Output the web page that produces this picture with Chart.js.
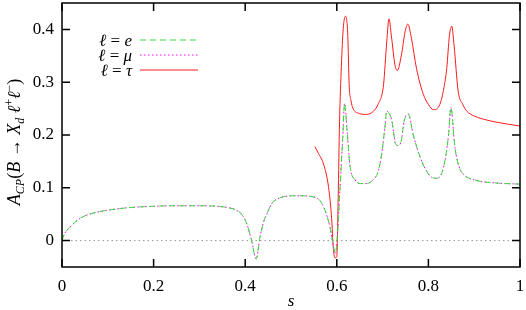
<!DOCTYPE html>
<html>
<head>
<meta charset="utf-8">
<script src="https://cdn.jsdelivr.net/npm/chart.js@4/dist/chart.umd.min.js"></script>
<style>
  html, body { margin: 0; padding: 0; background: #fff; }
</style>
</head>
<body>
<canvas id="graphique" width="526" height="310"></canvas>
<script>
// valeurs
const sLight = [0, 0.005, 0.017, 0.039, 0.06, 0.083, 0.12, 0.155, 0.2, 0.25, 0.3, 0.34, 0.365, 0.38, 0.392,
  0.403, 0.414, 0.424, 0.432, 0.44, 0.447, 0.458, 0.476, 0.512, 0.548, 0.563, 0.574, 0.585, 0.592, 0.597,
  0.602, 0.607, 0.613, 0.617, 0.622, 0.629, 0.64, 0.651, 0.665, 0.68, 0.69, 0.698, 0.705, 0.709, 0.715,
  0.72, 0.729, 0.735, 0.741, 0.747, 0.756, 0.767, 0.782, 0.795, 0.807, 0.82, 0.833, 0.844, 0.849, 0.858,
  0.867, 0.876, 0.9, 0.95, 1.0];
const acpLight = [0, 0.012, 0.025, 0.042, 0.05, 0.055, 0.06, 0.063, 0.065, 0.066, 0.066, 0.065, 0.062, 0.058, 0.05,
  0.033, 0.0, -0.035, 0.005, 0.035, 0.05, 0.07, 0.081, 0.085, 0.083, 0.076, 0.058, 0.026, -0.008, -0.025,
  0.02, 0.1, 0.195, 0.26, 0.214, 0.14, 0.115, 0.108, 0.108, 0.116, 0.13, 0.164, 0.214, 0.245, 0.24,
  0.228, 0.182, 0.18, 0.19, 0.226, 0.24, 0.2, 0.158, 0.133, 0.12, 0.118, 0.139, 0.2, 0.252, 0.176,
  0.14, 0.126, 0.115, 0.109, 0.107];

const sTau = [0.552, 0.56, 0.571, 0.582, 0.589, 0.592, 0.596, 0.6, 0.603, 0.606, 0.61, 0.614, 0.619, 0.624,
  0.627, 0.631, 0.635, 0.645, 0.665, 0.68, 0.69, 0.702, 0.709, 0.714, 0.719, 0.727, 0.732, 0.741, 0.749,
  0.755, 0.763, 0.774, 0.789, 0.8, 0.811, 0.825, 0.834, 0.84, 0.846, 0.851, 0.856, 0.865, 0.875, 0.884,
  0.9, 0.92, 0.95, 1.0];
const acpTau = [0.178, 0.165, 0.145, 0.101, 0.039, -0.01, -0.033, -0.03, 0.08, 0.226, 0.33, 0.401, 0.425, 0.389,
  0.295, 0.265, 0.251, 0.242, 0.239, 0.245, 0.258, 0.295, 0.376, 0.42, 0.389, 0.333, 0.322, 0.351, 0.395,
  0.41, 0.383, 0.326, 0.277, 0.258, 0.248, 0.258, 0.29, 0.326, 0.389, 0.406, 0.37, 0.283, 0.258, 0.245,
  0.236, 0.23, 0.224, 0.217];

const xTicks = [0, 0.2, 0.4, 0.6, 0.8, 1];
const yTicks = [0, 0.1, 0.2, 0.3, 0.4];
const legendLabels = ['e', 'μ', 'τ'];

const toPoints = (xs, ys) => xs.map((x, i) => ({ x: x, y: ys[i] }));
const FONT = '"Liberation Serif", "DejaVu Serif", serif';

// écrit une suite de morceaux [texte, police, décalage vertical] à partir de x
function ecrire(ctx, parts, x, y) {
  parts.forEach(p => {
    ctx.font = p[1] + ' ' + FONT;
    ctx.fillText(p[0], x, y + p[2]);
    x += ctx.measureText(p[0]).width;
  });
  return x;
}
function largeur(ctx, parts) {
  let w = 0;
  parts.forEach(p => { ctx.font = p[1] + ' ' + FONT; w += ctx.measureText(p[0]).width; });
  return w;
}

// cadre, graduations intérieures, légende et titres des axes
const decorPlugin = {
  id: 'decor',
  afterDraw(chart) {
    const ctx = chart.ctx;
    const a = chart.chartArea;
    const xs = chart.scales.x, ys = chart.scales.y;
    ctx.save();
    ctx.strokeStyle = '#000';
    ctx.lineWidth = 1.5;
    ctx.strokeRect(a.left, a.top, a.right - a.left, a.bottom - a.top);
    ctx.beginPath();
    xTicks.forEach(v => {
      const px = xs.getPixelForValue(v);
      ctx.moveTo(px, a.bottom); ctx.lineTo(px, a.bottom - 8);
      ctx.moveTo(px, a.top); ctx.lineTo(px, a.top + 8);
    });
    yTicks.forEach(v => {
      const py = ys.getPixelForValue(v);
      ctx.moveTo(a.left, py); ctx.lineTo(a.left + 8, py);
      ctx.moveTo(a.right, py); ctx.lineTo(a.right - 8, py);
    });
    ctx.stroke();

    // légende
    const ds = chart.data.datasets;
    ctx.fillStyle = '#000';
    ctx.textAlign = 'left';
    ctx.textBaseline = 'alphabetic';
    legendLabels.forEach((lab, i) => {
      const y = 40 + i * 15;
      const parts = [['ℓ', 'italic 17px', 0], [' = ', '17px', 0], [lab, 'italic 17px', 0]];
      ecrire(ctx, parts, 132 - largeur(ctx, parts), y + 6);
      const d = ds[i];
      ctx.strokeStyle = d.borderColor;
      ctx.lineWidth = d.borderWidth;
      ctx.setLineDash(d.borderDash || []);
      ctx.beginPath();
      ctx.moveTo(140, y); ctx.lineTo(198, y);
      ctx.stroke();
    });
    ctx.setLineDash([]);

    // titre de l'axe x
    ctx.font = 'italic 17px ' + FONT;
    ctx.textAlign = 'center';
    ctx.fillText('s', (a.left + a.right) / 2, 306);

    // titre de l'axe y (avec indices et exposants)
    ctx.textAlign = 'left';
    ctx.translate(20, 142);
    ctx.rotate(-Math.PI / 2);
    const titre = [
      ['A', 'italic 18px', 0], ['CP', 'italic 12px', 4], ['(', '18px', 0], ['B', 'italic 18px', 0],
      [' → ', '18px', 0], ['X', 'italic 18px', 0], ['d', 'italic 12px', 4], [' ℓ', 'italic 18px', 0],
      ['+', '12px', -7], ['ℓ', 'italic 18px', 0], ['−', '12px', -7], [')', '18px', 0]
    ];
    ecrire(ctx, titre, -largeur(ctx, titre) / 2, 0);
    ctx.restore();
  }
};

function dessiner() {
  const ctx = document.getElementById('graphique').getContext('2d');
  new Chart(ctx, {
    type: 'line',
    data: {
      datasets: [
        { label: 'e', data: toPoints(sLight, acpLight), borderColor: '#33dd33', borderWidth: 1, borderDash: [6, 4] },
        { label: 'mu', data: toPoints(sLight, acpLight), borderColor: '#ff00ff', borderWidth: 1, borderDash: [1.5, 2.5] },
        { label: 'tau', data: toPoints(sTau, acpTau), borderColor: '#ff1a1a', borderWidth: 1 },
        { label: 'zero', data: toPoints([0, 1], [0, 0]), borderColor: '#999999', borderWidth: 1, borderDash: [1.5, 3] }
      ]
    },
    options: {
      responsive: false,
      animation: false,
      layout: { padding: { top: 3, right: 6, left: 0, bottom: 0 } },
      elements: { point: { radius: 0 }, line: { cubicInterpolationMode: 'monotone', fill: false } },
      plugins: { legend: { display: false }, tooltip: { enabled: false } },
      scales: {
        x: {
          type: 'linear', min: 0, max: 1,
          afterBuildTicks: s => { s.ticks = xTicks.map(v => ({ value: v })); },
          afterFit: s => { s.height = 43; s.paddingLeft = 0; s.paddingRight = 0; },
          grid: { display: false, drawTicks: false },
          border: { display: false },
          ticks: { padding: 9, color: '#000', font: { family: FONT, size: 17 }, callback: v => String(v), maxRotation: 0 }
        },
        y: {
          type: 'linear', min: -0.05, max: 0.45,
          afterBuildTicks: s => { s.ticks = yTicks.map(v => ({ value: v })); },
          afterFit: s => { s.width = 62; s.paddingTop = 0; s.paddingBottom = 0; },
          grid: { display: false, drawTicks: false },
          border: { display: false },
          ticks: { padding: 8, color: '#000', font: { family: FONT, size: 17 }, callback: v => String(v) }
        }
      }
    },
    plugins: [decorPlugin]
  });
}

Promise.all([
  document.fonts.load('17px "Liberation Serif"'),
  document.fonts.load('italic 17px "Liberation Serif"')
]).then(dessiner, dessiner);
</script>
</body>
</html>
